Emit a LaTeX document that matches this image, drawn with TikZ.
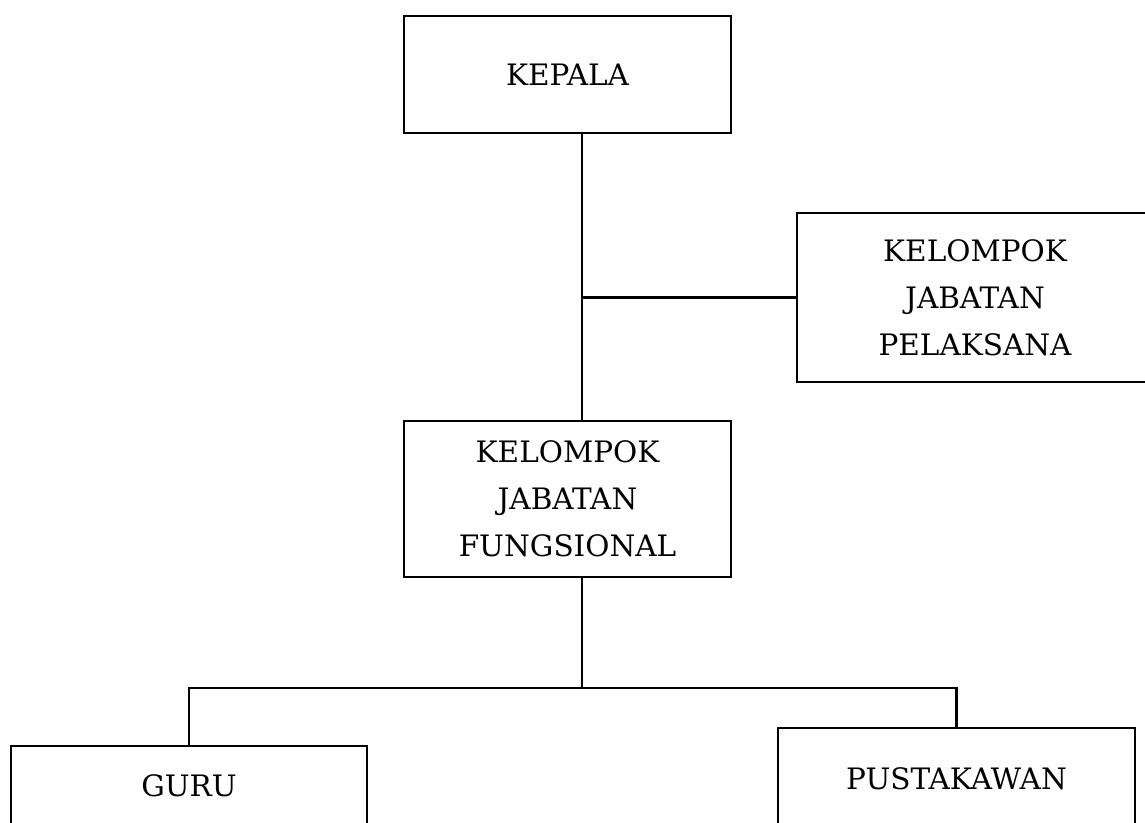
\documentclass[tikz,border=0pt]{standalone}
\usepackage{fontspec}
\setmainfont{DejaVu Serif}
\begin{document}
\begin{tikzpicture}[x=1pt,y=-1pt,
  box/.style={draw,line width=2.4pt,inner sep=0pt,align=center,
    font=\fontsize{29.5}{47}\selectfont},
  conn/.style={line width=2.4pt}]
\useasboundingbox (0,0) rectangle (1145,822);
\clip (0,0) rectangle (1145,822);
\node[box,minimum width=327pt,minimum height=117pt] (kepala) at (567.5,74.5) {KEPALA};
\node[box,minimum width=356pt,minimum height=169pt] (pelaksana) at (975,297.5) {KELOMPOK\\JABATAN\\PELAKSANA};
\node[box,minimum width=327pt,minimum height=156pt] (fungsional) at (567.5,499) {KELOMPOK\\JABATAN\\FUNGSIONAL};
\node[box,minimum width=356pt,minimum height=80pt] (guru) at (189,786) {GURU};
\node[box,minimum width=357pt,minimum height=102pt] (pustakawan) at (956.5,779) {PUSTAKAWAN};
\coordinate (spine) at (582,0);
\coordinate (bus) at (582,688);
\draw[conn] (kepala.south -| spine) -- (fungsional.north -| spine);
\draw[conn] (spine |- pelaksana.west) -- (pelaksana.west);
\draw[conn] (fungsional.south -| spine) -- (bus);
\draw[conn] (guru.north) |- (bus) -| (pustakawan.north);
\end{tikzpicture}
\end{document}
